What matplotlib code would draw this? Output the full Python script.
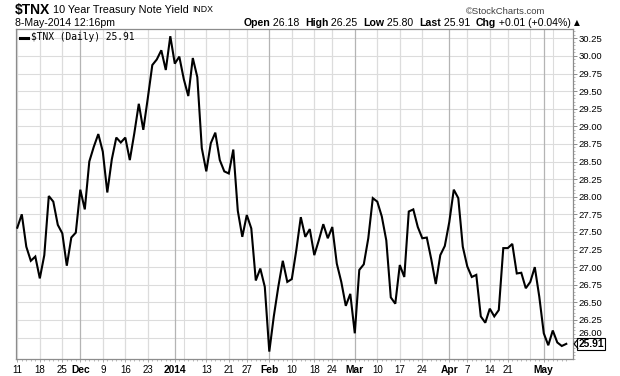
import matplotlib
matplotlib.use("Agg")
import matplotlib.pyplot as plt
import numpy as np
import pandas as pd
from matplotlib.transforms import blended_transform_factory
from matplotlib.lines import Line2D

# ---------------- data ----------------
holidays = ["2013-11-28", "2013-12-25", "2014-01-01", "2014-01-20",
            "2014-02-17", "2014-04-18"]
dates = pd.bdate_range("2013-11-11", "2014-05-08")
dates = dates[~dates.isin(pd.to_datetime(holidays))]

values = [27.56, 27.75, 27.29, 27.09, 27.15, 26.84, 27.17, 28.01, 27.93, 27.60,
          27.48, 27.02, 27.42, 27.49, 28.10, 27.82, 28.50, 28.71, 28.89, 28.64,
          28.06, 28.53, 28.84, 28.77, 28.84, 28.52, 28.90, 29.32, 28.95, 29.40,
          29.87, 29.95, 30.08, 29.80, 30.28, 29.89, 29.99, 29.67, 29.43, 29.97,
          29.70, 28.69, 28.36, 28.76, 28.91, 28.52, 28.36, 28.33, 28.67, 27.80,
          27.43, 27.74, 27.55, 26.81, 26.98, 26.72, 25.80, 26.30, 26.72, 27.09,
          26.79, 26.83, 27.24, 27.71, 27.43, 27.54, 27.17, 27.38, 27.61, 27.41,
          27.57, 27.05, 26.79, 26.45, 26.62, 26.06, 26.96, 27.04, 27.41, 27.98,
          27.93, 27.72, 27.38, 26.57, 26.48, 27.03, 26.86, 27.79, 27.82, 27.57,
          27.41, 27.42, 27.11, 26.76, 27.17, 27.30, 27.64, 28.10, 27.98, 27.29,
          27.01, 26.86, 26.89, 26.30, 26.21, 26.41, 26.30, 26.39, 27.27, 27.27,
          27.33, 26.91, 26.92, 26.70, 26.79, 27.00, 26.58, 26.06, 25.89, 26.10,
          25.93, 25.88, 25.91]

tick_dates = ["2013-11-11", "2013-11-18", "2013-11-25", "2013-12-02", "2013-12-09",
              "2013-12-16", "2013-12-23", "2014-01-02", "2014-01-13", "2014-01-21",
              "2014-01-27", "2014-02-03", "2014-02-10", "2014-02-18", "2014-02-24",
              "2014-03-03", "2014-03-10", "2014-03-17", "2014-03-24", "2014-04-01",
              "2014-04-07", "2014-04-14", "2014-04-21", "2014-05-01"]
tick_labels = ["11", "18", "25", "Dec", "9", "16", "23", "2014", "13", "21", "27",
               "Feb", "10", "18", "24", "Mar", "10", "17", "24", "Apr", "7", "14",
               "21", "May"]
bold_labels = ["Dec", "2014", "Feb", "Mar", "Apr", "May"]
extra_grid_dates = ["2014-01-06", "2014-04-28", "2014-05-05"]

y_ticks = [26.00, 26.25, 26.50, 26.75, 27.00, 27.25, 27.50, 27.75, 28.00,
           28.25, 28.50, 28.75, 29.00, 29.25, 29.50, 29.75, 30.00, 30.25]

last_value = 25.91

# ---------------- figure ----------------
W, H = 620, 376
fig = plt.figure(figsize=(W / 100, H / 100), dpi=100)
fig.patch.set_facecolor("white")

L, R, T, B = 16, 573.3, 29.3, 359
ax = fig.add_axes([L / W, 1 - B / H, (R - L) / W, (B - T) / H])

x = np.arange(len(values))
date_index = {d: i for i, d in enumerate(dates)}
tick_pos = [date_index[pd.Timestamp(d)] for d in tick_dates]
extra_pos = [date_index[pd.Timestamp(d)] for d in extra_grid_dates]

ax.set_xlim(-0.29, 123.56)
ax.set_ylim(25.695, 30.378)

# grid
for yv in y_ticks:
    ax.axhline(yv, color="#dcdcdc", lw=0.8, zorder=1)
for p, lab in zip(tick_pos, tick_labels):
    col = "#b4b4b4" if lab in bold_labels else "#dcdcdc"
    ax.axvline(p, color=col, lw=0.9, zorder=1)
for p in extra_pos:
    ax.axvline(p, color="#dcdcdc", lw=0.8, zorder=1)

ax.plot(x, values, color="black", lw=1.5, zorder=3, solid_joinstyle="miter")

for s in ax.spines.values():
    s.set_color("#8c8c8c")
    s.set_linewidth(0.9)

# y axis on right
ax.yaxis.tick_right()
ax.set_yticks(y_ticks)
ylabels = [f"{v:.2f}" for v in y_ticks]
ax.set_yticklabels(ylabels, fontfamily="Liberation Sans", fontsize=6.8)
ax.set_yticks(np.arange(25.70, 30.38, 0.05), minor=True)
ax.tick_params(axis="y", which="major", length=3, width=0.7, color="#8c8c8c",
               pad=1, labelcolor="black")
ax.tick_params(axis="y", which="minor", length=1.5, width=0.5, color="#9c9c9c")
# the 26.00 label sits under the last-value box in the reference: show only its top
for t in ax.get_yticklabels():
    if t.get_text() == "26.00":
        t.set_va("bottom")

# x axis
ax.set_xticks(tick_pos)
ax.set_xticklabels(tick_labels, fontfamily="Liberation Sans", fontsize=7.0)
for t in ax.get_xticklabels():
    if t.get_text() in bold_labels:
        t.set_fontweight("bold")
        t.set_fontsize(7.4)
ax.set_xticks(x, minor=True)
ax.tick_params(axis="x", which="major", length=2, width=0.6, color="#9c9c9c", pad=2)
ax.tick_params(axis="x", which="minor", length=1.5, width=0.5, color="#9c9c9c")

# legend
ax.add_line(Line2D([20 / W, 28 / W], [1 - 37.5 / H, 1 - 37.5 / H], transform=fig.transFigure,
                   color="black", lw=2.2))
fig.text(31 / W, 1 - 37.5 / H, "$TNX (Daily) 25.91", fontfamily="DejaVu Sans Mono",
         fontsize=6.9, va="center", ha="left")

# last value marker
trans = blended_transform_factory(ax.transAxes, ax.transData)
px = 1.0 / (R - L)
py = (30.378 - 25.695) / (B - T)
ax.text(1 + 5 * px, last_value, "25.91", transform=trans, fontfamily="Liberation Sans",
        fontweight="bold", fontsize=7.4, va="center", ha="left", zorder=10, clip_on=False,
        bbox=dict(boxstyle="square,pad=0.12", facecolor="white", edgecolor="black", lw=0.8))
ax.add_line(Line2D([1 + 4.5 * px, 1 + 0.8 * px, 1 + 4.5 * px],
                   [last_value + 4.5 * py, last_value, last_value - 4.5 * py],
                   transform=trans, color="black", lw=0.8, clip_on=False, zorder=11))

# ---------------- header ----------------
fig.canvas.draw()
renderer = fig.canvas.get_renderer()


def draw_pieces(pieces, x0, y, align="left"):
    texts = []
    for s, kw in pieces:
        t = fig.text(0, 1 - y / H, s, va="center", ha="left", **kw)
        texts.append(t)
    widths = [t.get_window_extent(renderer).width for t in texts]
    total = sum(widths)
    cur = x0 if align == "left" else x0 - total
    for t, w in zip(texts, widths):
        t.set_x(cur / W)
        cur += w
    return texts


reg = dict(fontfamily="Liberation Sans", fontsize=7.6)
bld = dict(fontfamily="Liberation Sans", fontsize=7.6, fontweight="bold")

draw_pieces([("$TNX", dict(fontfamily="Liberation Sans", fontsize=10, fontweight="bold")),
             (" 10 Year Treasury Note Yield ", dict(fontfamily="Liberation Sans", fontsize=7.8)),
             ("INDX", dict(fontfamily="Liberation Sans", fontsize=6.3))], 15, 10)

fig.text(545 / W, 1 - 11 / H, "©StockCharts.com", fontfamily="Liberation Sans",
         fontsize=6.8, color="#404040", va="center", ha="right")

fig.text(15 / W, 1 - 22.5 / H, "8-May-2014 12:16pm", va="center", ha="left", **reg)

draw_pieces([("Open", bld), (" 26.18  ", reg), ("High", bld), (" 26.25  ", reg),
             ("Low", bld), (" 25.80  ", reg), ("Last", bld), (" 25.91  ", reg),
             ("Chg", bld), (" +0.01 (+0.04%) ", reg),
             ("▲", dict(fontfamily="DejaVu Sans", fontsize=5.5))], 580, 22.5, align="right")

fig.savefig("out.png", dpi=100, facecolor="white")
